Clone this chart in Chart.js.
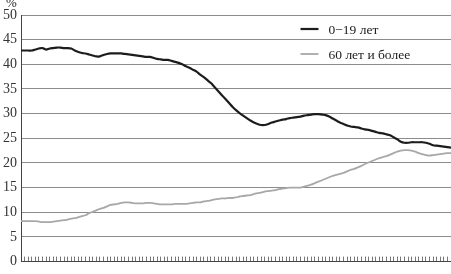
<!DOCTYPE html>
<html>
<head>
<meta charset="utf-8">
<script src="https://cdn.jsdelivr.net/npm/chart.js@4"></script>
<style>
  html, body { margin: 0; padding: 0; background: #fff; }
  #wrap { width: 451px; height: 274px; position: relative; }
</style>
</head>
<body>
<div id="wrap"><canvas id="chart"></canvas></div>
<script>
// categories (years, no labels shown on the axis)
const years = [];
for (let y = 1900; y <= 2020; y++) years.push(String(y));

const seriesLabels = ['0\u221219 лет', '60 лет и более'];

// share of 0-19 year olds, %
const young = [
  42.8, 42.8, 42.8, 42.8, 43.0, 43.2, 43.3, 43.0, 43.2, 43.3,
  43.4, 43.4, 43.3, 43.3, 43.2, 42.8, 42.5, 42.3, 42.2, 42.0,
  41.8, 41.6, 41.6, 41.9, 42.1, 42.2, 42.2, 42.2, 42.2, 42.1,
  42.0, 41.9, 41.8, 41.7, 41.6, 41.5, 41.5, 41.3, 41.1, 41.0,
  40.9, 40.9, 40.7, 40.5, 40.3, 40.0, 39.6, 39.3, 38.9, 38.5,
  37.9, 37.4, 36.8, 36.2, 35.4, 34.6, 33.8, 33.0, 32.2, 31.4,
  30.7, 30.1, 29.6, 29.1, 28.6, 28.2, 27.9, 27.7, 27.7, 27.9,
  28.2, 28.4, 28.6, 28.8, 28.9, 29.1, 29.2, 29.3, 29.4, 29.6,
  29.7, 29.8, 29.9, 29.9, 29.8, 29.7, 29.4, 29.0, 28.6, 28.2,
  27.9, 27.6, 27.4, 27.3, 27.2, 27.0, 26.8, 26.7, 26.5, 26.3,
  26.1, 26.0, 25.8, 25.6, 25.2, 24.8, 24.3, 24.1, 24.1, 24.2,
  24.2, 24.2, 24.2, 24.1, 23.9, 23.6, 23.5, 23.4, 23.3, 23.2,
  23.1
];

// share of 60+ year olds, %
const old = [
  8.2, 8.2, 8.2, 8.2, 8.2, 8.1, 8.0, 8.0, 8.0, 8.1,
  8.2, 8.3, 8.4, 8.5, 8.7, 8.8, 9.0, 9.2, 9.4, 9.8,
  10.1, 10.4, 10.7, 10.9, 11.2, 11.5, 11.6, 11.7, 11.9, 12.0,
  12.0, 11.9, 11.8, 11.8, 11.8, 11.9, 11.9, 11.8, 11.7, 11.6,
  11.6, 11.6, 11.6, 11.7, 11.7, 11.7, 11.7, 11.8, 11.9, 12.0,
  12.0, 12.2, 12.3, 12.4, 12.6, 12.7, 12.8, 12.8, 12.9, 12.9,
  13.0, 13.2, 13.3, 13.4, 13.5, 13.7, 13.9, 14.0, 14.2, 14.3,
  14.4, 14.5, 14.7, 14.8, 14.9, 15.0, 15.0, 15.0, 15.0, 15.2,
  15.4, 15.6, 15.9, 16.2, 16.5, 16.8, 17.1, 17.4, 17.6, 17.8,
  18.0, 18.3, 18.6, 18.8, 19.1, 19.4, 19.8, 20.1, 20.4, 20.7,
  21.0, 21.2, 21.4, 21.7, 22.0, 22.3, 22.5, 22.6, 22.6, 22.5,
  22.3, 22.0, 21.8, 21.6, 21.5, 21.6, 21.7, 21.8, 21.9, 22.0,
  22.0
];

const yTicks = [0, 5, 10, 15, 20, 25, 30, 35, 40, 45, 50];

const FONT = '"Liberation Serif", "DejaVu Serif", serif';

// legend inside plot area + unit label
const extras = {
  id: 'extras',
  afterDraw(chart) {
    const c = chart.ctx;
    const area = chart.chartArea;
    c.save();
    c.fillStyle = '#222';
    c.font = '13px ' + FONT;
    c.textBaseline = 'middle';
    c.textAlign = 'left';
    c.fillText('%', 6, 4);

    c.font = '13.5px ' + FONT;
    const x0 = area.left + area.width * 0.65;
    chart.data.datasets.forEach((ds, i) => {
      const y = area.top + 14 + i * 25;
      c.strokeStyle = ds.borderColor;
      c.lineWidth = ds.borderWidth;
      c.beginPath();
      c.moveTo(x0, y);
      c.lineTo(x0 + 18, y);
      c.stroke();
      c.fillStyle = '#222';
      c.fillText(ds.label, x0 + 28, y + 1);
    });
    c.restore();
  }
};

new Chart(document.getElementById('chart'), {
  type: 'line',
  data: {
    labels: years,
    datasets: [
      { label: seriesLabels[0], data: young, borderColor: '#1c1c1c', borderWidth: 2.2, pointRadius: 0, tension: 0.3, fill: false },
      { label: seriesLabels[1], data: old, borderColor: '#a8a8a8', borderWidth: 1.8, pointRadius: 0, tension: 0.3, fill: false }
    ]
  },
  options: {
    responsive: true,
    maintainAspectRatio: false,
    animation: false,
    layout: { padding: { top: 15, right: 0, left: 0, bottom: 0 } },
    plugins: { legend: { display: false }, tooltip: { enabled: false } },
    scales: {
      x: {
        offset: false,
        grid: { drawOnChartArea: false, tickLength: -5, color: '#777', lineWidth: 1 },
        border: { color: '#444', width: 1 },
        ticks: { display: false, autoSkip: false },
        afterFit: s => { s.height = 5; }
      },
      y: {
        min: 0,
        max: 50,
        afterBuildTicks: s => { s.ticks = yTicks.map(v => ({ value: v })); },
        grid: { color: '#8c8c8c', lineWidth: 1, tickLength: 0 },
        border: { color: '#444', width: 1 },
        ticks: { color: '#333', padding: 4, font: { family: FONT, size: 14 } },
        afterFit: s => { s.width = 21; }
      }
    }
  },
  plugins: [extras]
});
</script>
</body>
</html>
